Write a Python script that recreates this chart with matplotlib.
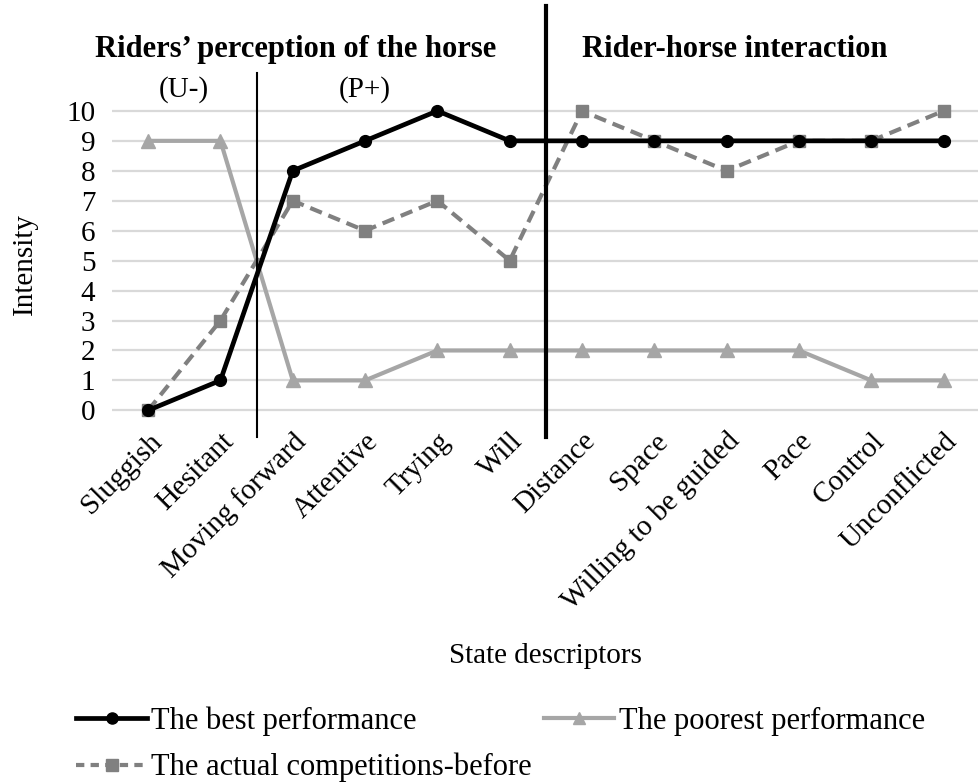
import matplotlib
matplotlib.use("Agg")
import matplotlib.pyplot as plt
from matplotlib.lines import Line2D

plt.rcParams['font.family'] = ['Liberation Serif', 'DejaVu Serif']

categories = ["Sluggish", "Hesitant", "Moving forward", "Attentive", "Trying", "Will",
              "Distance", "Space", "Willing to be guided", "Pace", "Control", "Unconflicted"]
best = [0, 1, 8, 9, 10, 9, 9, 9, 9, 9, 9, 9]
poorest = [9, 9, 1, 1, 2, 2, 2, 2, 2, 2, 1, 1]
actual = [0, 3, 7, 6, 7, 5, 10, 9, 8, 9, 9, 10]
series_names = ["The best performance", "The poorest performance", "The actual competitions-before"]
yticks = list(range(0, 11))

FS = 21

fig = plt.figure(figsize=(9.79, 7.84), dpi=100)
ax = fig.add_axes([0.1144, 0.4575, 0.8856, 0.4125])
x = list(range(len(categories)))

ax.plot(x, poorest, color='#A6A6A6', lw=3, marker='^', ms=9.5, zorder=3)
ax.plot(x, actual, color='#808080', lw=3, ls=(0, (3, 1.7)), marker='s', ms=9, zorder=4)
ax.plot(x, best, color='black', lw=3.4, marker='o', ms=8.5, zorder=5)

ax.set_xlim(-0.5, 11.49)
ax.set_ylim(-0.5, 10.3)
ax.set_yticks(yticks)
ax.yaxis.grid(True, color='#D9D9D9', lw=1.6, zorder=0)
ax.set_axisbelow(True)
for s in ax.spines.values():
    s.set_visible(False)
ax.tick_params(axis='y', length=0, labelsize=FS, pad=12)
ax.tick_params(axis='x', length=0, labelsize=FS, pad=2)
ax.set_xticks(x)
ax.set_xticklabels(categories, rotation=45, ha='right', rotation_mode='anchor')
ax.set_ylabel("Intensity", fontsize=FS, labelpad=20)
ax.set_xlabel("State descriptors", fontsize=FS, labelpad=20)

# separator lines
ax.plot([1.5, 1.5], [-0.9, 11.25], color='black', lw=1.5, clip_on=False, zorder=6)
ax.plot([5.5, 5.5], [-0.9, 13.5], color='black', lw=3, clip_on=False, zorder=6)

ax.text(2.04, 12.05, "Riders\u2019 perception of the horse", ha='center', va='center',
        fontsize=22, fontweight='bold')
ax.text(8.11, 12.05, "Rider-horse interaction", ha='center', va='center',
        fontsize=22, fontweight='bold')
ax.text(0.5, 10.72, "(U-)", ha='center', va='center', fontsize=FS)
ax.text(3.0, 10.72, "(P+)", ha='center', va='center', fontsize=FS)

h_best = Line2D([], [], color='black', lw=3.4, marker='o', ms=8)
h_poor = Line2D([], [], color='#A6A6A6', lw=3, marker='^', ms=9)
h_act = Line2D([], [], color='#808080', lw=3, ls=(0, (2, 1.5)), marker='s', ms=9)
fig.legend([h_best, h_act, h_poor], [series_names[0], series_names[2], series_names[1]],
           loc='upper left', bbox_to_anchor=(0.05, 0.134),
           ncol=2, frameon=False, fontsize=22, handlelength=2.3, handletextpad=0.15,
           columnspacing=0.4, labelspacing=0.55)

fig.savefig("out.png", dpi=100)
